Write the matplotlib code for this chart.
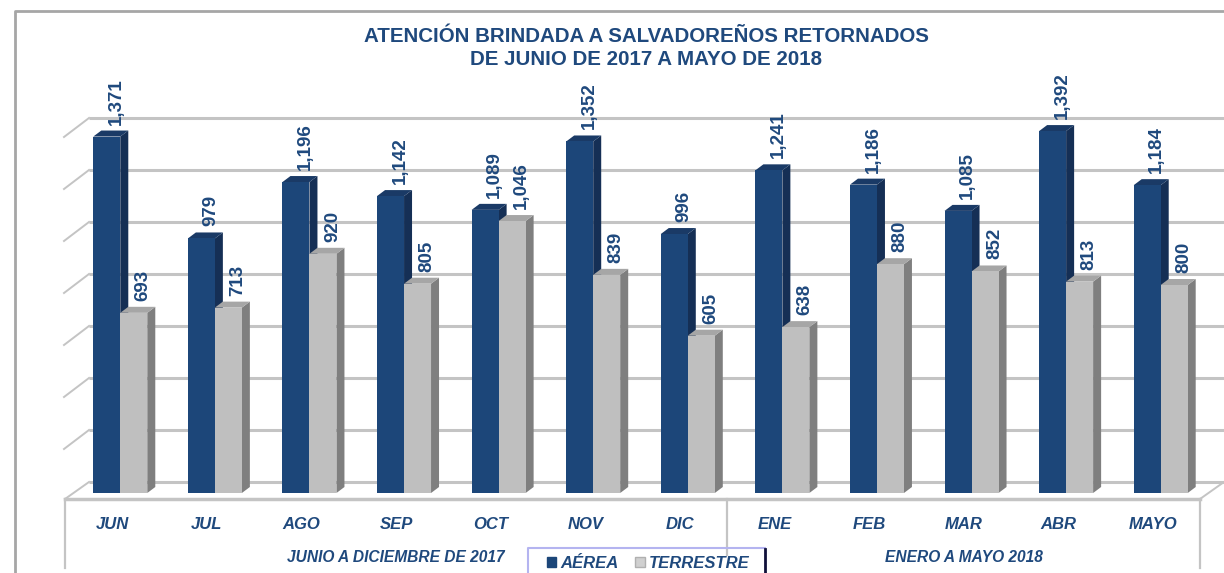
import matplotlib
matplotlib.use('Agg')
import matplotlib.pyplot as plt
from matplotlib.patches import Rectangle
from matplotlib.lines import Line2D

meses = ['JUN', 'JUL', 'AGO', 'SEP', 'OCT', 'NOV', 'DIC', 'ENE', 'FEB', 'MAR', 'ABR', 'MAYO']
aerea = [1371, 979, 1196, 1142, 1089, 1352, 996, 1241, 1186, 1085, 1392, 1184]
terrestre = [693, 713, 920, 805, 1046, 839, 605, 638, 880, 852, 813, 800]
grid_vals = [0, 200, 400, 600, 800, 1000, 1200, 1400]
grupos = ['JUNIO A DICIEMBRE DE 2017', 'ENERO A MAYO 2018']
grupo_x = [3, 9]
divisor = 6.5

AZUL = '#1c4679'
AZUL_LADO = '#152f55'
AZUL_TOPE = '#1a3a66'
GRIS = '#bfbfbf'
GRIS_LADO = '#7f7f7f'
GRIS_TOPE = '#a6a6a6'
LINEA = '#c4c4c4'
TEXTO = '#1f497d'

W, H = 1224, 573
PX_X = 94.6    # pixels per category
PX_Y = 0.26    # pixels per unit
DX = 1 / PX_X
DY = 1 / PX_Y

plt.rcParams['font.family'] = ['Liberation Sans', 'DejaVu Sans']

fig = plt.figure(figsize=(W / 100, H / 100), dpi=100)
# axes: 65..1200 px wide, value 0 sits at y=493 px
ax = fig.add_axes([65 / W, (H - 493) / H, 1135 / W, 390 / H])
ax.set_xlim(-0.5, 11.5)
ax.set_ylim(0, 390 * DY)
ax.patch.set_visible(False)
for s in ax.spines.values():
    s.set_visible(False)
ax.set_yticks([])
ax.set_xticks(range(len(meses)))
ax.set_xticklabels(meses, fontsize=12, fontweight='bold', fontstyle='italic', color=TEXTO)
ax.tick_params(axis='x', length=0, pad=17)

left = -0.5
right = 11.5

# back wall lines and the little ticks on the left side wall
for v in grid_vals:
    ax.plot([left + 24 * DX, right + 30 * DX], [v + 11 * DY] * 2, color=LINEA, lw=2.2,
            clip_on=False, zorder=1, solid_capstyle='butt')
    if v > 0:
        ax.plot([left - 1 * DX, left + 24 * DX], [v - 8 * DY, v + 11 * DY], color=LINEA, lw=1.4,
                clip_on=False, zorder=1)

# floor and front frame
ax.plot([left, left + 24 * DX], [-6 * DY, 11 * DY], color=LINEA, lw=1.4, clip_on=False, zorder=1)
ax.plot([right, right + 24 * DX], [-6 * DY, 11 * DY], color=LINEA, lw=1.4, clip_on=False, zorder=1)
ax.plot([left, right], [-6 * DY, -6 * DY], color=LINEA, lw=2.5, clip_on=False, zorder=1)
ax.plot([left, left], [-6 * DY, -75 * DY], color=LINEA, lw=1.6, clip_on=False, zorder=1)
ax.plot([right, right], [-6 * DY, -75 * DY], color=LINEA, lw=1.6, clip_on=False, zorder=1)
ax.plot([divisor, divisor], [-6 * DY, -62 * DY], color=LINEA, lw=1.6, clip_on=False, zorder=6)

ANCHO = 27 * DX
OFF = 8 * DX   # bars sit a bit to the right of the category centre
SIDE_X = 8 * DX
SIDE_Y = 6 * DY


def barra_3d(x, v, frente, lado, tope, z):
    # side and top faces first, then the front face on top
    ax.fill([x + ANCHO, x + ANCHO + SIDE_X, x + ANCHO + SIDE_X, x + ANCHO],
            [0, SIDE_Y, v + SIDE_Y, v], color=lado, lw=0, zorder=z, clip_on=False)
    ax.fill([x, x + SIDE_X, x + ANCHO + SIDE_X, x + ANCHO],
            [v, v + SIDE_Y, v + SIDE_Y, v], color=tope, lw=0, zorder=z, clip_on=False)
    ax.bar(x, v, width=ANCHO, align='edge', color=frente, lw=0, zorder=z + 0.1)


for i in range(len(meses)):
    xa = i + OFF - ANCHO
    xt = i + OFF
    barra_3d(xa, aerea[i], AZUL, AZUL_LADO, AZUL_TOPE, 2 + i * 0.01)
    barra_3d(xt, terrestre[i], GRIS, GRIS_LADO, GRIS_TOPE, 3 + i * 0.01)
    ax.annotate(format(aerea[i], ','), (xa, aerea[i]), xytext=(23, 12), textcoords='offset pixels',
                rotation=90, ha='center', va='bottom', fontsize=13.5, fontweight='bold',
                color=TEXTO, zorder=5, annotation_clip=False)
    ax.annotate(format(terrestre[i], ','), (xt, terrestre[i]), xytext=(23, 12), textcoords='offset pixels',
                rotation=90, ha='center', va='bottom', fontsize=13.5, fontweight='bold',
                color=TEXTO, zorder=5, annotation_clip=False)

for g, gx in zip(grupos, grupo_x):
    ax.text(gx, -64 * DY, g, ha='center', va='center', fontsize=11.2, fontweight='bold',
            fontstyle='italic', color=TEXTO, clip_on=False)

fig.text(646 / W, 1 - 48 / H, 'ATENCIÓN BRINDADA A SALVADOREÑOS RETORNADOS\nDE JUNIO DE 2017 A MAYO DE 2018',
         ha='center', va='center', fontsize=14.8, fontweight='bold', color=TEXTO, linespacing=1.25)

# outer chart border, open on the right
fig.add_artist(Line2D([15 / W, 15 / W, 1], [0, 1 - 11 / H, 1 - 11 / H], color='#a6a6a6', lw=2))

# legend box runs off the bottom of the picture
h1 = Rectangle((0, 0), 1, 1, color=AZUL)
h2 = Rectangle((0, 0), 1, 1, facecolor='#d0d0d0', edgecolor='#b0b0b0')
leg = fig.legend([h1, h2], ['AÉREA', 'TERRESTRE'], ncols=2, loc='upper left',
                 bbox_to_anchor=(538 / W, 1 - 547 / H), frameon=False,
                 handlelength=0.55, handleheight=0.55, handletextpad=0.25,
                 columnspacing=1.0, borderpad=0.55, borderaxespad=0,
                 prop={'size': 12, 'weight': 'bold', 'style': 'italic'})
for t in leg.get_texts():
    t.set_color(TEXTO)
fig.add_artist(Line2D([528 / W, 528 / W, 765 / W], [0, 1 - 548 / H, 1 - 548 / H], color='#b4b4f0', lw=1.5))
fig.add_artist(Line2D([765 / W, 765 / W], [0, 1 - 549 / H], color='#10103a', lw=2))

fig.savefig('out.png', dpi=100)
